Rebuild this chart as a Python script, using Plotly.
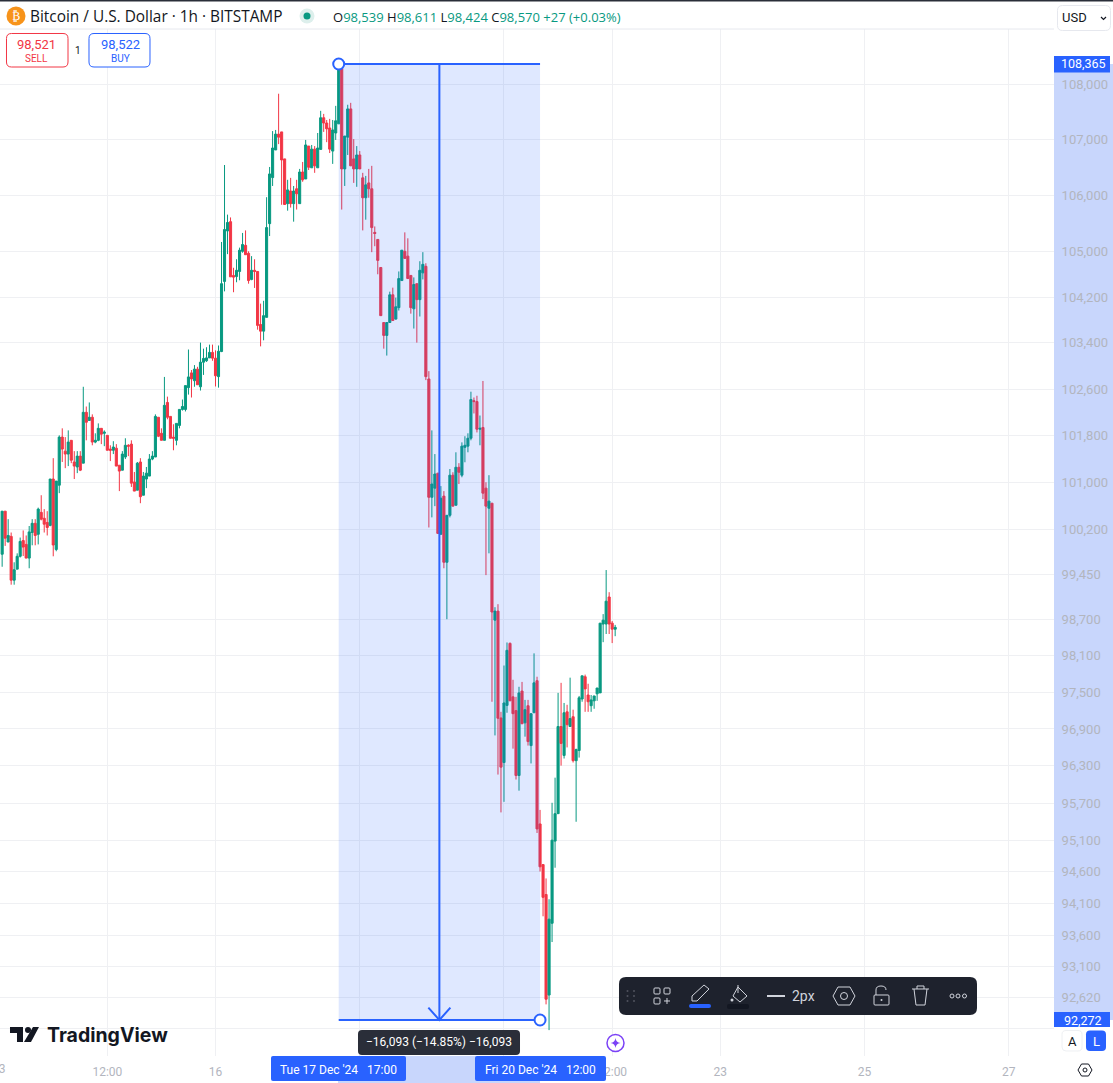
import math
import pandas as pd
import plotly.graph_objects as go

W, H = 1113, 1083

opens = [99790,100515,99995,100090,99355,99540,99755,100020,99955,99725,
100155,100310,100125,100495,100395,100325,100275,101060,99870,100955,
101775,101535,101485,101720,101350,101265,101450,101330,102200,102060,
102115,101690,101720,101925,101840,101805,101570,101550,101585,101295,
101210,101435,101635,101655,101010,100870,101350,100785,101060,101110,
101400,101435,102115,101840,101720,102370,102130,101775,101720,101975,
102250,102250,102625,102880,102745,102945,102640,103065,103090,103140,
103235,103135,102815,103250,104475,105365,105530,104580,104560,104650,
105005,105110,104970,104510,104670,104650,103720,103605,103845,105495,
106315,106810,107095,107135,106650,105850,106075,105850,106115,105850,
106415,106290,106880,106490,106825,106490,106820,107390,107295,107205,
106790,107115,107280,108280,106470,107040,107550,106650,106470,106720,
106310,105955,106220,106115,105340,105215,104720,103755,103530,103755,
104240,103815,104015,104490,105005,104920,104580,103995,104435,104155,
104625,104740,102775,100750,100905,101160,100125,100770,99655,100445,
101125,100615,101260,101125,101600,101620,101755,102400,102385,101910,
101940,100905,100565,100650,98690,98840,97080,96355,97285,98305,
97425,97200,96145,97520,97000,97280,96630,97165,97690,95365,
94715,94240,92660,93785,95090,95530,96940,96470,97180,96940,
97100,96385,96550,97390,97755,97455,97280,97360,97475,97490,
98625,98625,99075,98640,98539]

highs = [100515,100515,100380,100155,99655,99805,100070,100190,100105,100265,
100380,100380,100575,100785,100550,100515,101060,101415,101025,101805,
101925,101775,101890,101720,101535,101535,101535,102640,102300,102370,
102165,101840,102010,101925,101890,101805,101635,101705,101655,101295,
101535,101755,101655,101720,101180,101350,101415,101180,101265,101485,
101535,102165,102115,101925,102810,102470,102130,101995,102010,102250,
102420,102660,103285,102930,103015,102985,103405,103300,103325,103370,
103370,103270,103355,105170,106540,105655,105605,104715,104865,105070,
105330,105375,105005,104920,104865,104650,104085,104135,105965,106505,
107150,107170,107825,107135,106650,106275,106310,106165,106275,106470,
106595,106990,106880,106900,106880,107115,107515,107460,107350,107370,
107350,107605,108365,108365,107060,107625,107660,107005,106880,106790,
106400,106345,106470,106525,105445,105215,104720,103755,103755,104295,
104365,104190,104650,105025,105340,105235,104580,104545,104435,104830,
104990,104795,102910,101890,101485,101160,100940,100855,100445,101230,
101175,101515,101330,101685,101790,101840,102555,102455,102485,102145,
102740,101005,101125,100650,98905,98955,97180,97940,98320,98320,
97705,97425,97590,97670,97375,97375,97150,98140,97755,95590,
94715,94495,94165,95705,96110,97490,97655,97325,97295,97740,
97215,96580,97440,97770,97790,97640,97455,97440,97570,98640,
98790,99525,99155,98675,98611]

lows = [99580,99930,99995,99280,99280,99540,99735,99760,99725,99555,
99940,99940,99955,100360,100155,100105,100260,99755,99840,100820,
101350,101245,101280,101330,101060,101160,101195,101330,101720,102060,
101635,101670,101705,101655,101620,101550,101365,101485,101280,100855,
101210,101400,101450,100925,100855,100870,100650,100785,100905,101110,
101380,101435,101775,101720,101720,102080,101755,101550,101635,101925,
102230,102215,102505,102455,102640,102675,102575,102845,103070,103140,
103090,102645,102625,103240,104300,104955,104555,104285,104460,104495,
104980,104945,104435,104495,104360,103630,103340,103445,103845,105275,
106165,106810,106915,105830,105830,105725,105780,105530,105745,105850,
106240,106290,106450,106490,106400,106490,106820,107135,106950,106755,
106560,106990,107280,105745,106165,106720,106525,106220,106150,106470,
105375,105565,105955,104990,105095,104600,103875,103300,103180,103755,
103790,103805,103965,104490,104880,104525,103910,103650,103405,103860,
104510,102755,100240,100410,100600,100140,100125,99555,98705,100410,
100600,100615,100975,101090,101345,101515,101720,102180,101855,101635,
100720,99440,99805,97345,96795,96160,95550,95720,97165,97360,
96580,96080,95900,96985,96775,96630,96340,97165,95220,94605,
93895,92515,92115,93490,94665,95530,96305,96420,96600,96940,
96355,95400,96435,97345,97180,97180,97180,97230,97360,97490,
98325,98460,98460,98310,98424]

closes = [100515,100060,100105,99355,99530,99755,100005,99910,99725,100165,
100310,100105,100550,100380,100295,100240,101060,99945,101025,101775,
101570,101485,101690,101380,101280,101450,101210,102200,102030,102115,
101690,101720,101925,101825,101860,101550,101550,101605,101280,101195,
101485,101635,101620,100990,100855,101330,100760,101110,101160,101400,
101450,102130,101790,101720,102320,102115,101755,101755,102010,102250,
102300,102660,102810,102775,102945,102675,103065,103130,103140,103235,
103135,102830,103255,104435,105390,105515,104555,104550,104670,105025,
105125,104945,104490,104670,104650,103705,103605,103875,105425,106380,
106845,107095,107040,106630,105835,106095,105850,106075,106025,106415,
106275,106900,106500,106825,106525,106845,107390,107295,107190,106825,
107170,107335,108300,106470,107060,107550,106525,106470,106720,106470,
105955,106185,106115,105425,105320,104845,103875,103530,103755,104240,
103790,104030,104525,105025,104880,104525,104015,104420,104155,104670,
104775,102815,100750,100975,101145,100140,100735,99655,100445,101125,
100600,101260,101175,101620,101635,101755,102420,102385,101910,101925,
100820,100600,100685,98825,98840,97075,96280,97325,98190,97360,
97150,96145,97490,96985,97215,96695,97150,97655,95285,94680,
94195,92595,93850,95105,95530,96940,96665,97165,96970,97070,
96385,96565,97410,97770,97555,97345,97375,97440,97570,98640,
98690,99005,98625,98540,98570]

first_bar = "2024-12-13 01:00"

price_ticks = [108000,107000,106000,105000,104200,103400,102600,101800,101000,100200,
               99450,98700,98100,97500,96900,96300,95700,95100,94600,94100,93600,93100,92620,92140]
price_labels = ["108,000","107,000","106,000","105,000","104,200","103,400","102,600","101,800",
                "101,000","100,200","99,450","98,700","98,100","97,500","96,900","96,300",
                "95,700","95,100","94,600","94,100","93,600","93,100","92,620",""]

time_ticks = ["2024-12-14 12:00","2024-12-16 00:00","2024-12-18 00:00","2024-12-20 00:00",
              "2024-12-21 12:00","2024-12-23 00:00","2024-12-25 00:00","2024-12-27 00:00"]
time_labels = ["12:00","16","","","12:00","23","25","27"]

range_start, range_end = "2024-12-13 00:17", "2024-12-27 15:02"
price_min, price_max = 91715, 109005

measure_start, measure_end = "2024-12-17 17:00", "2024-12-20 12:00"
measure_mid = "2024-12-19 02:30"
arrow_left, arrow_right = "2024-12-18 22:50", "2024-12-19 06:10"
measure_high, measure_low, arrow_wing = 108365, 92272, 92465

BLUE = "#2962FF"
UP, DOWN = "#089981", "#F23645"
GRID = "#EFF0F3"
AXIS_TEXT = "#B2B5BE"
INK = "#131722"
FONT = "Roboto"
BAND = "#C8D6FC"

times = pd.date_range(first_bar, periods=len(opens), freq="h")

fig = go.Figure()
fig.add_trace(go.Candlestick(
    x=times, open=opens, high=highs, low=lows, close=closes,
    increasing=dict(line=dict(color=UP, width=1), fillcolor=UP),
    decreasing=dict(line=dict(color=DOWN, width=1), fillcolor=DOWN),
    whiskerwidth=0, hoverinfo="skip", showlegend=False))
fig.add_trace(go.Scatter(
    x=[measure_start, measure_end, measure_end, measure_start, measure_start],
    y=[measure_high, measure_high, measure_low, measure_low, measure_high],
    mode="lines", line=dict(width=0), fill="toself",
    fillcolor="rgba(41,98,255,0.15)", hoverinfo="skip", showlegend=False))
for xs, ys in [([measure_start, measure_end], [measure_high, measure_high]),
               ([measure_start, measure_end], [measure_low, measure_low]),
               ([measure_mid, measure_mid], [measure_high, measure_low]),
               ([arrow_left, measure_mid, arrow_right], [arrow_wing, measure_low, arrow_wing])]:
    fig.add_trace(go.Scatter(x=xs, y=ys, mode="lines", line=dict(color=BLUE, width=2),
                             hoverinfo="skip", showlegend=False, cliponaxis=False))
fig.add_trace(go.Scatter(
    x=[measure_start, measure_end], y=[measure_high, measure_low], mode="markers",
    marker=dict(size=11, color="white", line=dict(color=BLUE, width=2)),
    hoverinfo="skip", showlegend=False, cliponaxis=False))

shapes, notes = [], []
def px(x): return x / W
def py(y): return 1 - y / H

def path(d, fill=None, line=None, width=1.5, layer="above"):
    parts, out, is_x = d.split(), [], True
    for p in parts:
        if p.isalpha():
            out.append(p)
        else:
            v = float(p)
            out.append(f"{px(v):.5f}" if is_x else f"{py(v):.5f}")
            is_x = not is_x
    shapes.append(dict(type="path", xref="paper", yref="paper", path=" ".join(out),
                       fillcolor=fill or "rgba(0,0,0,0)",
                       line=dict(color=line or "rgba(0,0,0,0)", width=width if line else 0),
                       layer=layer))

def rect(x0, y0, x1, y1, fill=None, line=None, r=0, width=1, layer="above"):
    if r == 0:
        d = f"M {x0} {y0} L {x1} {y0} L {x1} {y1} L {x0} {y1} Z"
    else:
        d = (f"M {x0+r} {y0} L {x1-r} {y0} Q {x1} {y0} {x1} {y0+r} L {x1} {y1-r} Q {x1} {y1} {x1-r} {y1} "
             f"L {x0+r} {y1} Q {x0} {y1} {x0} {y1-r} L {x0} {y0+r} Q {x0} {y0} {x0+r} {y0} Z")
    path(d, fill, line, width, layer)

def circle(cx, cy, r, fill=None, line=None, width=1.5):
    shapes.append(dict(type="circle", xref="paper", yref="paper",
                       x0=px(cx-r), x1=px(cx+r), y0=py(cy+r), y1=py(cy-r),
                       fillcolor=fill or "rgba(0,0,0,0)",
                       line=dict(color=line or "rgba(0,0,0,0)", width=width if line else 0)))

def text(t, x, y, size=12, color=INK, anchor="left", family=FONT):
    notes.append(dict(text=t, xref="paper", yref="paper", x=px(x), y=py(y), xanchor=anchor,
                      yanchor="middle", showarrow=False, borderpad=0,
                      font=dict(size=size, color=color, family=family)))

# price and time strips
rect(1054, 64, 1113, 1020, fill=BAND, layer="below")
rect(338, 1056, 540, 1083, fill=BAND, layer="below")
rect(0, 0, W, 1.5, fill="#2A2E39")
path("M 0 29 L 1054 29", line="#E6E8EE", width=1)

# header
circle(16, 16, 9.5, fill="#F7931A")
text("₿", 16, 16, 12, "white", "center", "DejaVu Sans")
text("Bitcoin / U.S. Dollar · 1h · BITSTAMP", 29, 17, 15.4, INK, "left", "Open Sans")
circle(307, 16, 7.5, fill="#DDEFEC")
circle(307, 16, 3.5, fill=UP)
def g(s): return f"<span style='color:{UP}'>{s}</span>"
text(f"O{g('98,539')} H{g('98,611')} L{g('98,424')} C{g('98,570')} {g('+27 (+0.03%)')}", 332, 17, 13, INK, "left", "Open Sans")

rect(6.5, 33.5, 68, 67, fill="white", line=DOWN, r=5)
text("98,521", 37, 44, 13, DOWN, "center")
text("SELL", 37, 58, 10, DOWN, "center")
text("1", 78, 50, 10, INK, "center")
rect(89, 33.5, 150, 67, fill="white", line=BLUE, r=5)
text("98,522", 120, 44, 13, BLUE, "center")
text("BUY", 120, 58, 10, BLUE, "center")

rect(1057.5, 5.5, 1110.5, 30.5, fill="white", line="#E6E8EE", r=5)
text("USD", 1061, 18, 13, INK)
path("M 1101 17 L 1103.5 19.5 L 1106 17", line=INK, width=1.2)

# measured price labels
rect(1054, 56, 1110, 72.5, fill=BLUE)
text("108,365", 1083, 64, 12.5, "white", "center")
rect(1054, 1012, 1110, 1027, fill=BLUE)
text("92,272", 1083, 1020, 12.5, "white", "center")

# time labels
rect(271, 1056, 406, 1081, fill=BLUE, r=2)
text("Tue 17 Dec '24   17:00", 338.5, 1070, 12, "white", "center")
rect(475, 1056, 606, 1081, fill=BLUE, r=2)
text("Fri 20 Dec '24   12:00", 540.5, 1070, 12, "white", "center")

# measure tooltip
rect(358, 1030, 520, 1055, fill="#2A2E39", r=4)
text("−16,093 (−14.85%) −16,093", 439, 1042, 12, "white", "center")

# logo
path("M 10 1027 L 23 1027 L 23 1042 L 17 1042 L 17 1033 L 10 1033 Z", fill=INK)
circle(28, 1030, 3, fill=INK)
path("M 33 1027 L 39 1027 L 31 1042 L 24 1042 Z", fill=INK)
text("<b>TradingView</b>", 46, 1035, 19.5, INK, "left", "Inter")

# toolbar
rect(619, 977, 977, 1015, fill="#1E222D", r=7)
for dx in (627.5, 634):
    for dy in (991, 996, 1001):
        circle(dx, dy, 1, fill="#50535E")
ic = "#D1D4DC"
rect(654, 988, 660, 994, line=ic, r=1)
rect(664, 988, 670, 994, line=ic, r=1)
rect(654, 998, 660, 1004, line=ic, r=1)
path("M 664 1001 L 670 1001 M 667 998 L 667 1004", line=ic, width=1)
path("M 692 1001 L 692 996 L 704 985 L 709 989 L 697 1001 Z", line=ic, width=1)
rect(689, 1004, 711, 1008, fill=BLUE, r=2)
path("M 738 987 L 747 996 L 740 1002 L 733 996 Z", line=ic, width=1)
path("M 738 985 L 738 993", line=ic, width=1)
circle(732, 1000, 1.5, fill=ic)
rect(727, 1004, 749, 1009, fill="#131722", r=2)
path("M 767 996 L 785 996", line=ic, width=2)
text("2px", 791, 996, 14, ic)
path("M 833 996 L 838 987 L 850 987 L 855 996 L 850 1005 L 838 1005 Z", line=ic, width=1)
circle(844, 996, 3.5, line=ic, width=1)
rect(874, 995, 889, 1005, line=ic, r=1)
path("M 876 995 L 876 990 Q 876 986 881 986 Q 886 986 886 990", line=ic, width=1)
circle(881.5, 1000, 1, fill=ic)
path("M 912 989 L 929 989 M 914 989 L 916 1005 L 925 1005 L 927 989 M 917 989 L 917 986 L 924 986 L 924 989",
     line=ic, width=1)
for dx in (952, 958, 964.5):
    circle(dx, 996, 2, line=ic, width=1)

# assistant badge, scale buttons, settings
circle(615.5, 1043, 8.5, fill="white", line="#7B42F6", width=1.5)
path("M 615.5 1038 Q 616 1042.5 620.5 1043 Q 616 1043.5 615.5 1048 Q 615 1043.5 610.5 1043 Q 615 1042.5 615.5 1038 Z",
     fill="#7B42F6")
rect(1062, 1030.5, 1082, 1051, fill="white", line="#EEF0F3", r=4)
text("A", 1072, 1041, 13, INK, "center")
rect(1086, 1030.5, 1106, 1051, fill=BLUE, r=4)
text("L", 1096, 1041, 13, "white", "center")
path("M 1078 1070 L 1081.5 1064 L 1088.5 1064 L 1092 1070 L 1088.5 1076 L 1081.5 1076 Z", line=INK, width=1)
circle(1085, 1070, 2, line=INK, width=1)

# left-edge time label, cut by the page edge like the original
text("13", -1, 1069, 12, AXIS_TEXT, "center")

fig.update_layout(
    width=W, height=H, margin=dict(l=0, r=0, t=0, b=0), autosize=False,
    paper_bgcolor="white", plot_bgcolor="white", showlegend=False,
    boxgap=0, hovermode=False, shapes=shapes, annotations=notes,
    font=dict(family=FONT, size=12, color=AXIS_TEXT),
    xaxis=dict(type="date", domain=[0, 1054 / W], range=[range_start, range_end],
               rangeslider=dict(visible=False), tickmode="array", tickvals=time_ticks,
               ticktext=time_labels, tickangle=0, showgrid=True, gridcolor=GRID, gridwidth=1,
               zeroline=False, showline=False, ticks="outside", ticklen=5,
               tickcolor="rgba(0,0,0,0)", tickfont=dict(size=12, color=AXIS_TEXT, family=FONT)),
    yaxis=dict(type="log", domain=[1 - 1056 / H, 1 - 29 / H],
               range=[math.log10(price_min), math.log10(price_max)], side="right",
               tickmode="array", tickvals=price_ticks, ticktext=price_labels,
               showgrid=True, gridcolor=GRID, gridwidth=1, zeroline=False, showline=False,
               ticks="outside", ticklen=4, tickcolor="rgba(0,0,0,0)",
               tickfont=dict(size=13, color=AXIS_TEXT, family=FONT)),
)

fig.write_html("out.html", config=dict(displayModeBar=False, responsive=False),
               post_script="document.body.style.margin='0';document.body.style.overflow='hidden';")
